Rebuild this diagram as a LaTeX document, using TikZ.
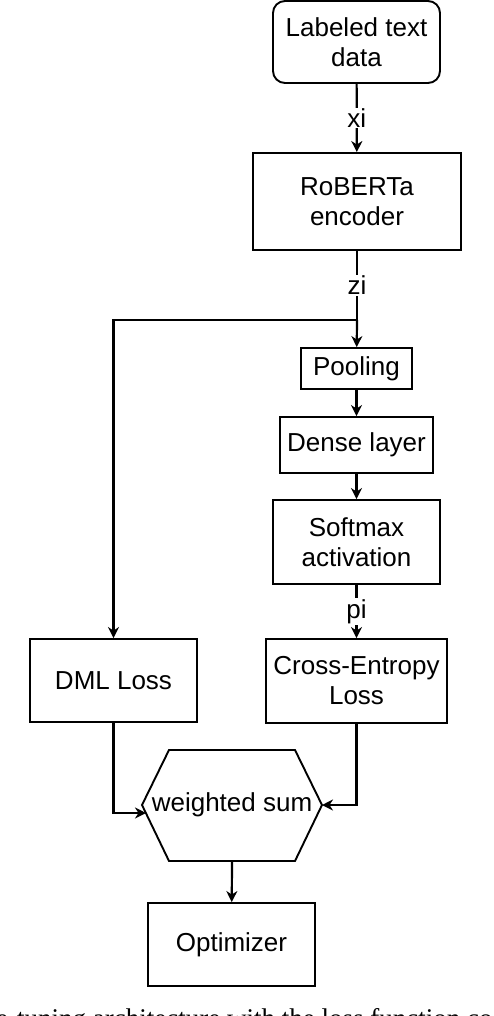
\documentclass[tikz,border=0pt]{standalone}
\usepackage{fontspec}
\setmainfont{Liberation Sans}
\newfontfamily\capfont{Liberation Serif}
\usetikzlibrary{arrows.meta}
\begin{document}
\begin{tikzpicture}[x=1pt,y=-1pt,
  box/.style={draw, line width=1.9pt, inner sep=0pt, align=center, font=\fontsize{26}{30}\selectfont},
  conn/.style={line width=2.2pt, -{Stealth[length=11pt,width=11pt,inset=3.5pt]}},
  wire/.style={line width=2.2pt},
  lbl/.style={fill=white, inner sep=1pt, font=\fontsize{26}{30}\selectfont}]
\useasboundingbox (0,0) rectangle (494,1016);
\node[box, rounded corners=12pt, minimum width=167pt, minimum height=82pt] (data) at (356.5,42) {Labeled text\\data};
\node[box, minimum width=208pt, minimum height=97pt] (enc) at (357,201.5) {RoBERTa\\encoder};
\node[box, minimum width=111pt, minimum height=41pt] (pool) at (356.5,368.5) {Pooling};
\node[box, minimum width=153pt, minimum height=56pt] (dense) at (356.5,445) {Dense layer};
\node[box, minimum width=167pt, minimum height=84pt] (soft) at (356.5,542) {Softmax\\activation};
\node[box, minimum width=181pt, minimum height=84pt] (ce) at (356.5,681) {Cross-Entropy\\Loss};
\node[box, minimum width=167pt, minimum height=83pt] (dml) at (113.5,680.5) {DML Loss};
\node[box, minimum width=167pt, minimum height=83pt] (opt) at (231.5,944.5) {Optimizer};
% hexagon
\draw[line width=1.9pt, line join=miter] (142,805) -- (169,750) -- (295,750) -- (322,805) -- (295,861) -- (169,861) -- cycle;
\node[box, draw=none] (hex) at (232,805) {weighted sum};
\coordinate (hr) at (322,805);
\coordinate (hl) at (146,813);
\coordinate (hb) at (232,861);
\coordinate (j) at (357,320);
% connectors
\draw[conn] (data) -- node[lbl]{xi} (enc);
\draw[wire] (enc) -- node[lbl]{zi} (j);
\draw[conn] (j) -- (pool);
\draw[conn] (j) -| (dml.north);
\draw[conn] (pool) -- (dense);
\draw[conn] (dense) -- (soft);
\draw[conn] (soft) -- node[lbl]{pi} (ce);
\draw[conn] (dml.south) |- (hl);
\draw[conn] (ce.south) |- (hr);
\draw[conn] (hb) -- (opt);
% caption (cut off at the bottom, as in the reference)
\node[anchor=base west, inner sep=0pt, font=\capfont\fontsize{27}{30}\selectfont] (cap) at (-4,1027) {e-tuning architecture with the loss function co};
\end{tikzpicture}
\end{document}
